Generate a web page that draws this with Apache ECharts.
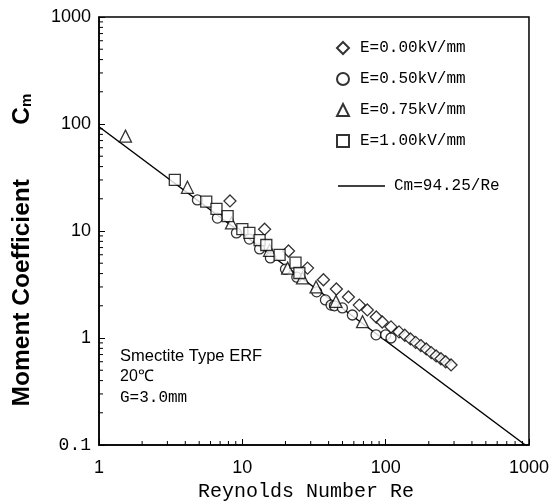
<!DOCTYPE html>
<html>
<head>
<meta charset="utf-8">
<script src="https://cdn.jsdelivr.net/npm/echarts@6/dist/echarts.min.js"></script>
<style>
  html, body { margin: 0; padding: 0; background: #fff; }
  #chart { width: 552px; height: 504px; }
</style>
</head>
<body>
<div id="chart"></div>
<script>
// values (Re, Cm)
const reE000 = [8.2, 14.3, 21.0, 28.5, 36.8, 45.3, 55, 65.5, 74.5, 86, 94.7, 109, 124, 136, 149, 162, 176, 192, 208, 225, 243, 262, 286];
const cmE000 = [19.1, 10.4, 6.5, 4.5, 3.5, 2.87, 2.42, 2.03, 1.83, 1.57, 1.41, 1.27, 1.14, 1.06, 0.98, 0.91, 0.85, 0.79, 0.73, 0.68, 0.64, 0.60, 0.56];

const reE050 = [4.86, 6.7, 9.1, 11.2, 13.2, 15.7, 20, 24, 33, 38, 41.6, 43.9, 49.9, 58.6, 85.7, 100, 109];
const cmE050 = [19.5, 13.2, 9.6, 8.4, 6.8, 5.6, 4.4, 3.7, 2.7, 2.27, 2.03, 2.0, 1.91, 1.64, 1.07, 1.07, 1.0];

const reE075 = [1.53, 4.14, 8.4, 15.5, 20.7, 26.3, 32.7, 45, 69];
const cmE075 = [77, 25.6, 11.9, 6.6, 4.5, 3.64, 3.0, 2.2, 1.42];

const reE100 = [3.38, 5.6, 6.6, 7.9, 10, 11.2, 13.2, 14.7, 18.2, 23.5, 25];
const cmE100 = [30, 18.8, 16.1, 13.8, 10.4, 9.6, 8.2, 7.4, 5.97, 5.06, 4.05];

// Cm = 94.25 / Re
const fitRe = [1, 942.5];
const fitCm = fitRe.map(r => 94.25 / r);

// minor ticks of the log axes
const minorX = [2, 3, 4, 5, 6, 7, 8, 9, 20, 30, 40, 50, 60, 70, 80, 90, 200, 300, 400, 500, 600, 700, 800, 900];
const minorY = [0.2, 0.3, 0.4, 0.5, 0.6, 0.7, 0.8, 0.9, 2, 3, 4, 5, 6, 7, 8, 9, 20, 30, 40, 50, 60, 70, 80, 90, 200, 300, 400, 500, 600, 700, 800, 900];

const seriesNames = ['E=0.00kV/mm', 'E=0.50kV/mm', 'E=0.75kV/mm', 'E=1.00kV/mm'];
const fitName = 'Cm=94.25/Re';

const zip = (a, b) => a.map((v, i) => [v, b[i]]);

const markStyle = { color: '#fff', borderColor: '#000', borderWidth: 1.3 };

function scatter(name, xs, ys, symbol, size, z) {
  return {
    name: name, type: 'scatter', symbol: symbol, symbolSize: size,
    itemStyle: markStyle, data: zip(xs, ys), z: z, silent: true
  };
}

function tickItem(params, api) {
  const p = api.coord([api.value(0), api.value(1)]);
  const horiz = api.value(2) === 0;
  return {
    type: 'line',
    shape: horiz
      ? { x1: p[0], y1: p[1], x2: p[0], y2: p[1] - 4 }
      : { x1: p[0], y1: p[1], x2: p[0] + 4, y2: p[1] },
    style: { stroke: '#000', lineWidth: 1 }
  };
}

const myChart = echarts.init(document.getElementById('chart'));
myChart.setOption({
  animation: false,
  grid: { left: 99, right: 22, top: 17, bottom: 59, show: true, borderColor: '#000', borderWidth: 1.5 },
  xAxis: {
    type: 'log', logBase: 10, min: 1, max: 1000,
    axisLine: { lineStyle: { color: '#000', width: 1.5 } },
    axisTick: { inside: true, length: 6, lineStyle: { color: '#000' } },
    splitLine: { show: false },
    axisLabel: { color: '#000', fontFamily: 'Liberation Sans', fontSize: 18, margin: 14, formatter: v => String(v) }
  },
  yAxis: {
    type: 'log', logBase: 10, min: 0.1, max: 1000,
    axisLine: { lineStyle: { color: '#000', width: 1.5 } },
    axisTick: { inside: true, length: 6, lineStyle: { color: '#000' } },
    splitLine: { show: false },
    axisLabel: {
      color: '#000', fontFamily: 'Liberation Sans', fontSize: 18, margin: 8,
      formatter: v => v < 1 ? '{m|0.1}' : String(v),
      rich: { m: { fontFamily: 'Liberation Mono', fontSize: 18, color: '#000' } }
    }
  },
  legend: [
    {
      data: seriesNames, orient: 'vertical', left: 331, top: 35,
      itemWidth: 12, itemHeight: 12, itemGap: 15,
      textStyle: { fontFamily: 'Liberation Mono', fontSize: 16, color: '#000', lineHeight: 16, padding: [0, 0, 0, 6] }
    },
    {
      data: [{ name: fitName, icon: 'rect' }], orient: 'vertical', left: 333, top: 173,
      itemWidth: 47, itemHeight: 1.5,
      textStyle: { fontFamily: 'Liberation Mono', fontSize: 16, color: '#000', padding: [0, 0, 0, 4] }
    }
  ],
  graphic: [
    {
      type: 'text', x: 22, y: 250, rotation: Math.PI / 2,
      style: {
        text: 'Moment Coefficient        {c|C}{s|m}',
        font: 'bold 24.5px "Liberation Sans"', fill: '#000',
        textAlign: 'center', textVerticalAlign: 'middle',
        rich: {
          c: { fontFamily: 'Liberation Sans', fontWeight: 'bold', fontSize: 24.5, fill: '#000' },
          s: { fontFamily: 'Liberation Sans', fontWeight: 'bold', fontSize: 15, fill: '#000', verticalAlign: 'bottom', padding: [10, 0, 0, 0] }
        }
      }
    },
    {
      type: 'text', x: 306, y: 492,
      style: { text: 'Reynolds Number Re', font: '20px "Liberation Mono"', fill: '#000', textAlign: 'center', textVerticalAlign: 'middle' }
    },
    {
      type: 'text', x: 120, y: 356,
      style: { text: 'Smectite Type ERF', font: '16.5px "Liberation Sans"', fill: '#000', textVerticalAlign: 'middle' }
    },
    {
      type: 'text', x: 120, y: 377,
      style: { text: '20℃', font: '16px "Liberation Sans"', fill: '#000', textVerticalAlign: 'middle' }
    },
    {
      type: 'text', x: 120, y: 398,
      style: { text: 'G=3.0mm', font: '16px "Liberation Mono"', fill: '#000', textVerticalAlign: 'middle' }
    }
  ],
  series: [
    {
      name: fitName, type: 'line', symbol: 'none', data: zip(fitRe, fitCm),
      lineStyle: { color: '#000', width: 1.5 }, itemStyle: { color: '#000' }, z: 1, silent: true
    },
    scatter(seriesNames[0], reE000, cmE000, 'diamond', 12, 2),
    scatter(seriesNames[1], reE050, cmE050, 'circle', 10, 3),
    scatter(seriesNames[2], reE075, cmE075, 'triangle', 12, 4),
    scatter(seriesNames[3], reE100, cmE100, 'rect', 11, 5),
    {
      type: 'custom', renderItem: tickItem, silent: true, z: 6,
      data: minorX.map(v => [v, 0.1, 0]).concat(minorY.map(v => [1, v, 1]))
    }
  ]
});
</script>
</body>
</html>
